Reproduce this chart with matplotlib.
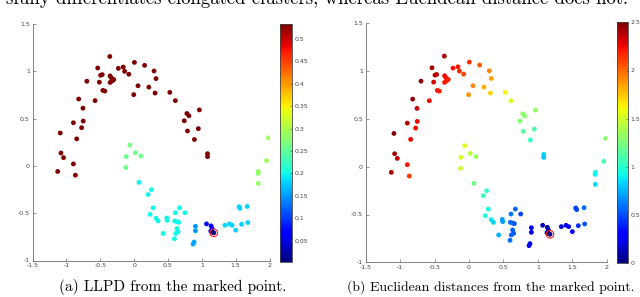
import numpy as np
import matplotlib
matplotlib.use('Agg')
import matplotlib.pyplot as plt
from matplotlib.ticker import FuncFormatter

# point coordinates
x = [-0.358, -0.537, -0.470, -0.494, -0.513, -0.697, -0.818, -0.755, -0.751, -0.775,
     -0.847, -0.896, -1.090, -1.080, -1.041, -1.128, -0.896, -0.867, -0.576, -0.460,
     -0.431, -0.354, -0.334, -0.354, -0.324, -0.300, -0.232, -0.160, -0.140, -0.077,
     0.005, 0.155, 0.295, 0.324, 0.058, -0.005, 0.218, 0.310, 0.528, 0.610,
     0.780, 0.809, 0.741, 0.964, 0.789, 0.949, 0.891, 1.085, 1.085,
     -0.063, -0.116, 0.019, 0.102, -0.121,
     0.073, 0.257, 0.208, 0.281, 0.237, 0.324, 0.354, 0.484, 0.489, 0.431,
     0.610, 0.673, 0.751, 0.600, 0.634, 0.659, 0.634, 0.649, 0.615, 0.596,
     0.906, 0.906, 0.886, 0.872,
     1.070, 1.138, 1.153, 1.133, 1.157, 1.177,
     1.341, 1.409, 1.448, 1.501, 1.550, 1.564, 1.588, 1.671, 1.680,
     1.835, 1.831, 1.835, 1.956, 1.985]
y = [1.157, 1.035, 0.965, 0.958, 0.885, 0.895, 0.707, 0.610, 0.474, 0.404,
     0.286, 0.456, 0.348, 0.136, 0.087, -0.059, 0.021, -0.098, 0.690, 0.798,
     0.791, 0.951, 0.930, 0.882, 0.899, 0.913, 1.031, 1.045, 1.000, 0.969,
     1.094, 1.063, 1.003, 0.923, 0.847, 0.753, 0.833, 0.770, 0.777, 0.690,
     0.554, 0.530, 0.477, 0.592, 0.369, 0.394, 0.279, 0.129, 0.098,
     0.220, 0.098, 0.139, 0.105, -0.017,
     -0.174, -0.251, -0.303, -0.443, -0.512, -0.554, -0.582, -0.551, -0.575, -0.714,
     -0.495, -0.443, -0.495, -0.582, -0.589, -0.596, -0.662, -0.697, -0.714, -0.770,
     -0.638, -0.686, -0.805, -0.826,
     -0.613, -0.634, -0.662, -0.690, -0.700, -0.707,
     -0.627, -0.613, -0.627, -0.679, -0.432, -0.449, -0.617, -0.429, -0.599,
     -0.059, -0.080, -0.185, 0.056, 0.296]

# LLPD from the marked point (left panel colours)
llpd = [0.534] * 49 + [0.265, 0.26, 0.26, 0.26, 0.26] + [0.2] * 20 + \
       [0.15, 0.15, 0.155, 0.155] + [0.07, 0.065, 0.06, 0.06, 0.05, 0.004] + \
       [0.18] * 9 + [0.285, 0.285, 0.285, 0.29, 0.295]

# Euclidean distance from the marked point (right panel colours)
eucl = [2.42, 2.44, 2.35, 2.36, 2.32, 2.47, 2.45, 2.34, 2.26, 2.25,
        2.26, 2.38, 2.50, 2.41, 2.36, 2.39, 2.20, 2.13, 2.24, 2.22,
        2.20, 2.26, 2.23, 2.21, 2.20, 2.19, 2.24, 2.20, 2.16, 2.09,
        2.15, 2.04, 1.92, 1.84, 1.92, 1.88, 1.81, 1.71, 1.62, 1.51,
        1.32, 1.29, 1.26, 1.32, 1.14, 1.12, 1.03, 0.84, 0.81,
        1.55, 1.52, 1.43, 1.35, 1.47,
        1.23, 1.03, 1.05, 0.93, 0.96, 0.87, 0.83, 0.71, 0.70, 0.75,
        0.61, 0.57, 0.48, 0.59, 0.56, 0.53, 0.55, 0.53, 0.56, 0.58,
        0.28, 0.27, 0.31, 0.33,
        0.14, 0.08, 0.05, 0.05, 0.02, 0.0,
        0.18, 0.25, 0.28, 0.33, 0.46, 0.47, 0.42, 0.57, 0.51,
        0.92, 0.91, 0.84, 1.09, 1.29]

marked = (1.177, -0.707)

xticks = [-1.5, -1, -0.5, 0, 0.5, 1, 1.5, 2]
yticks = [-1, -0.5, 0, 0.5, 1, 1.5]
cb1_ticks = [0.05, 0.1, 0.15, 0.2, 0.25, 0.3, 0.35, 0.4, 0.45, 0.5]
cb2_ticks = [0, 0.5, 1, 1.5, 2, 2.5]

gray = '#6e6e6e'
fmt = FuncFormatter(lambda v, p: '%g' % v)

fig = plt.figure(figsize=(6.4, 2.97), dpi=100)


def panel(rect, crect, vals, vmin, vmax, cticks):
    ax = fig.add_axes(rect)
    sc = ax.scatter(x, y, c=vals, cmap='jet', vmin=vmin, vmax=vmax, s=12,
                    edgecolors='none', zorder=2)
    ax.scatter([marked[0]], [marked[1]], s=30, facecolors='none',
               edgecolors='#ff2020', linewidths=0.8, zorder=3)
    ax.set_xlim(-1.5, 2)
    ax.set_ylim(-1, 1.5)
    ax.set_xticks(xticks)
    ax.set_yticks(yticks)
    ax.xaxis.set_major_formatter(fmt)
    ax.yaxis.set_major_formatter(fmt)
    ax.spines['top'].set_visible(False)
    ax.spines['right'].set_visible(False)
    for s in ['left', 'bottom']:
        ax.spines[s].set_color(gray)
        ax.spines[s].set_linewidth(0.6)
    ax.tick_params(direction='in', length=2, width=0.5, color=gray,
                   labelsize=4.5, labelcolor='#444444', pad=2)

    cax = fig.add_axes(crect)
    cb = fig.colorbar(sc, cax=cax)
    cb.set_ticks(cticks)
    cb.ax.yaxis.set_major_formatter(fmt)
    cb.outline.set_edgecolor('#444444')
    cb.outline.set_linewidth(0.6)
    cb.ax.tick_params(direction='in', length=1.5, width=0.4, color='#444444',
                      labelsize=4.5, labelcolor='#444444', pad=1.5)
    return ax


panel([32.5 / 640, 1 - 260.5 / 297, 237 / 640, 236.5 / 297],
      [280 / 640, 1 - 261.5 / 297, 12.3 / 640, 238 / 297],
      llpd, 0.0037, 0.534, cb1_ticks)
panel([365.7 / 640, 1 - 262.3 / 297, 241 / 640, 239 / 297],
      [616.7 / 640, 1 - 263.3 / 297, 11.6 / 640, 241 / 297],
      eucl, 0.0, 2.5, cb2_ticks)

fig.text(628 / 640, 1 - 4.5 / 297,
         'sfully differentiates elongated clusters, whereas Euclidean distance does not.',
         family='cmr10', fontsize=13.5, ha='right', va='baseline')
fig.text(173 / 640, 1 - 287 / 297, '(a) LLPD from the marked point.',
         family='cmr10', fontsize=11, ha='center', va='center')
fig.text(491 / 640, 1 - 287 / 297, '(b) Euclidean distances from the marked point.',
         family='cmr10', fontsize=9.9, ha='center', va='center')

fig.savefig('out.png', dpi=100)
